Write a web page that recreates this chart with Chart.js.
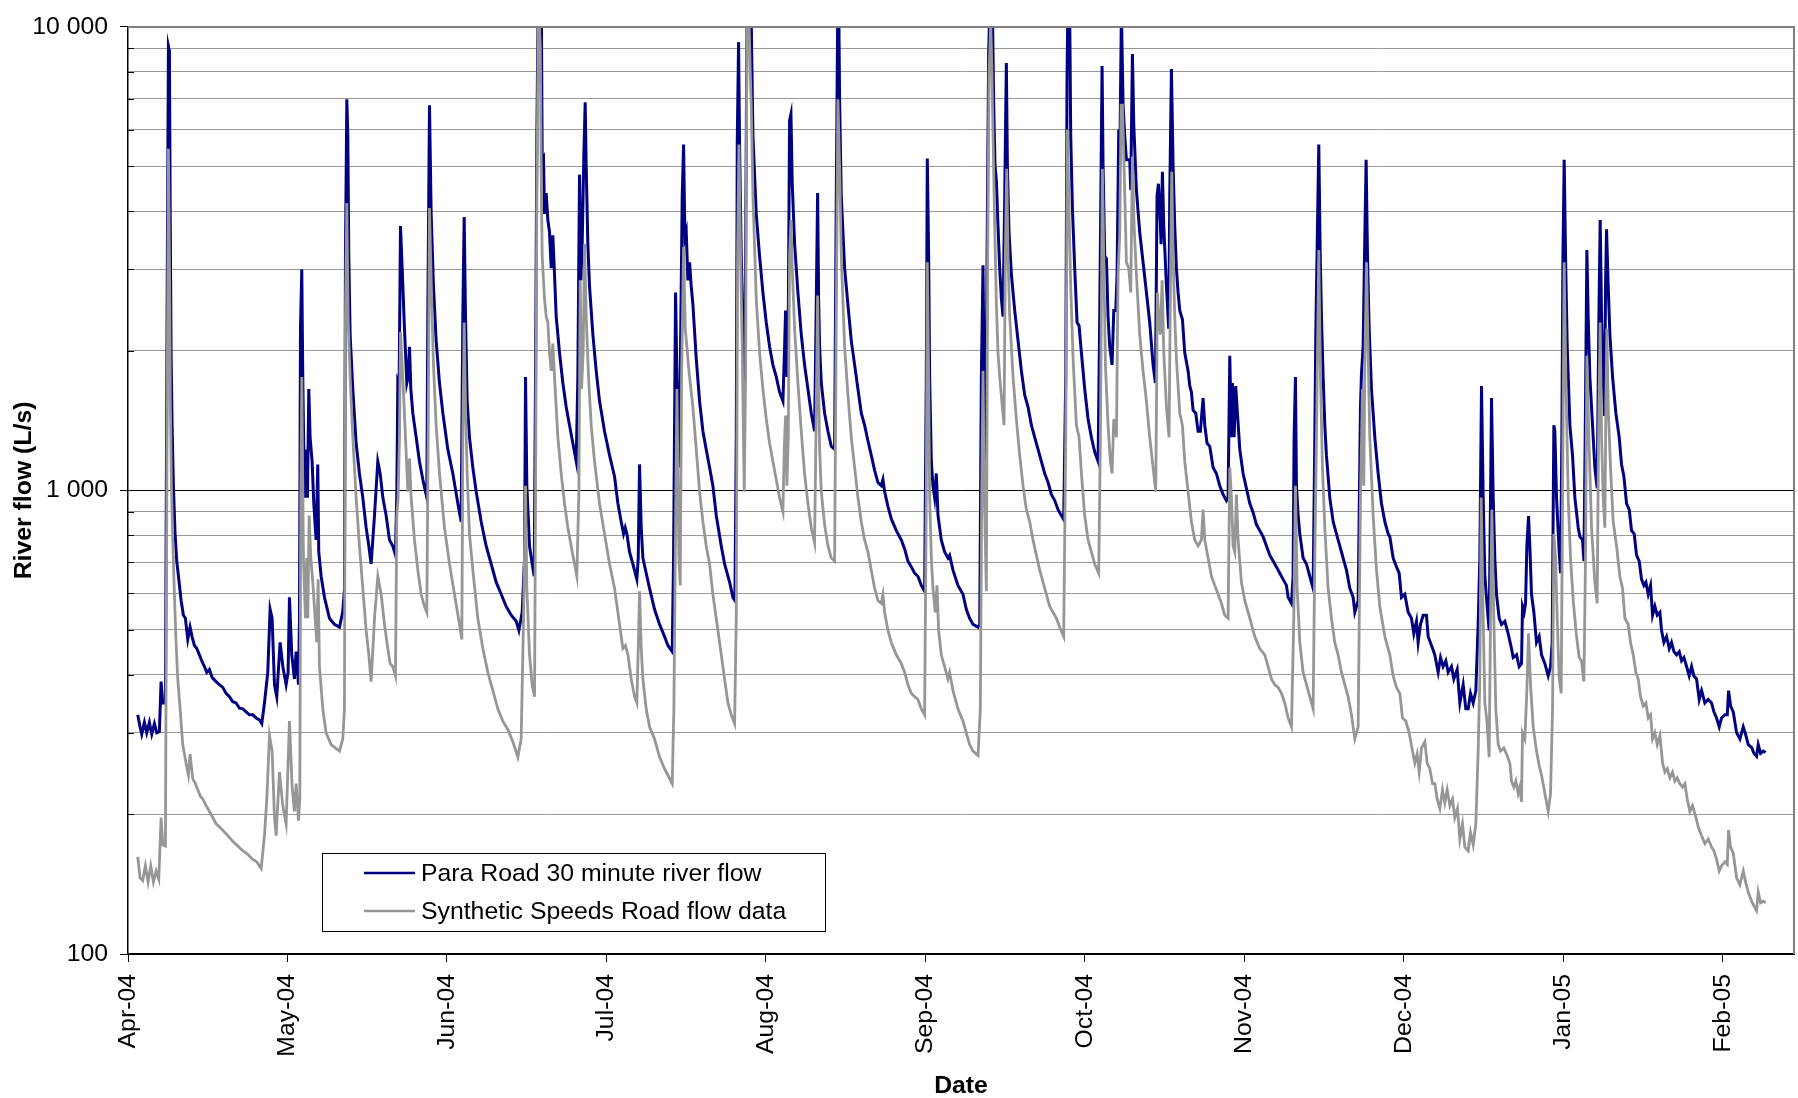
<!DOCTYPE html>
<html>
<head>
<meta charset="utf-8">
<title>River flow</title>
<script src="https://cdn.jsdelivr.net/npm/chart.js@4.4.1/dist/chart.umd.min.js"></script>
<style>
    html, body { margin: 0; padding: 0; background: #ffffff; }
    #wrap { width: 1798px; height: 1098px; }
</style>
</head>
<body>
<div id="wrap"><canvas id="flowChart" width="1798" height="1098"></canvas></div>
<script>
// Month tick labels (ticks are evenly spaced on the original axis)
const monthLabels = ['Apr-04', 'May-04', 'Jun-04', 'Jul-04', 'Aug-04', 'Sep-04',
                     'Oct-04', 'Nov-04', 'Dec-04', 'Jan-05', 'Feb-05'];
const daysPerTick = 30.42;
const lastDay = 317.8;

// Log axis: grid lines and labelled values
const yGridValues = [100, 200, 300, 400, 500, 600, 700, 800, 900,
                     1000, 2000, 3000, 4000, 5000, 6000, 7000, 8000, 9000, 10000];
const yLabelValues = [100, 1000, 10000];
const yLabelTexts = ['100', '1 000', '10 000'];

const seriesNames = ['Para Road 30 minute river flow', 'Synthetic Speeds Road flow data'];

// Para Road flow (days since 1 Apr 2004, L/s)
const paraDays = [
    1.86, 2.30, 2.62, 3.13, 3.57, 4.08, 4.53, 5.04, 5.49, 5.99, 6.31, 6.63, 7.14, 7.45, 7.71, 7.90, 8.05, 8.22,
    8.41, 8.66, 8.98, 9.30, 9.68, 10.13, 10.57, 10.95, 11.40, 11.84, 12.22, 12.67, 13.12, 13.62, 14.13, 14.58,
    15.02, 15.53, 16.04, 16.80, 17.44, 18.08, 18.71, 19.35, 19.98, 20.62, 21.26, 21.89, 22.53, 23.16, 23.80,
    24.44, 25.07, 25.52, 26.03, 26.66, 27.11, 27.49, 27.94, 28.38, 28.76, 29.02, 29.53, 30.16, 30.54, 30.80,
    31.24, 31.75, 32.07, 32.52, 32.71, 32.90, 33.15, 33.34, 33.66, 33.98, 34.23, 34.49, 34.74, 35.12, 35.44,
    35.88, 36.20, 36.39, 36.84, 37.48, 38.43, 39.38, 40.34,
    40.97, 41.29, 41.48, 41.74, 41.93, 42.12, 42.37, 42.88, 43.52, 44.15, 44.79, 45.43, 45.94, 46.38, 47.02,
    47.65, 48.10, 48.61, 49.24, 49.88, 50.51, 51.02, 51.28, 51.47, 51.72, 51.98, 52.30, 52.74, 53.19, 53.44,
    53.70, 53.95, 54.33, 54.97, 55.60, 56.24, 56.75, 57.00, 57.19, 57.51, 57.83, 58.27, 58.78, 59.42, 60.06,
    61.01, 61.96, 62.92, 63.55, 63.87, 64.13, 64.38, 64.70, 65.14, 65.78, 66.42, 67.37, 68.32, 69.28, 70.23,
    71.19, 72.14, 73.10, 74.05, 74.56, 75.19, 75.64, 75.83, 76.08, 76.59, 77.10, 77.48, 77.74, 77.99, 78.30,
    78.85, 79.01, 79.26, 79.45, 79.77, 80.09, 80.41, 80.73, 81.04, 81.36, 81.68, 82.32, 82.95, 83.59, 84.22,
    84.86, 85.50, 85.81, 86.13, 86.39, 86.64, 86.96, 87.21, 87.40, 87.72, 88.04, 88.68, 89.31, 89.95, 90.90,
    91.86, 92.81, 93.45, 94.08, 94.53, 94.85, 95.16, 95.67, 96.31, 97.07, 97.33, 97.58, 97.90, 98.22, 98.85,
    99.49, 100.44, 101.40, 102.35, 102.99, 103.81, 104.07, 104.45, 104.77, 105.09, 105.34, 105.72, 105.98,
    106.23, 106.49, 106.80, 107.12, 107.44, 107.76, 108.40, 109.03, 109.67, 110.30, 110.94, 111.57, 112.21,
    113.17, 113.80, 114.76, 115.39, 115.77, 116.03, 116.22, 116.47, 116.66, 116.98, 117.30, 117.62, 117.81,
    118.06, 118.30, 118.85, 119.21, 119.84, 120.48, 121.11, 121.75, 122.39, 123.02, 123.66, 124.29, 124.93,
    125.18, 125.44, 125.69, 125.95, 126.20, 126.46, 126.71, 127.16, 127.79, 128.43, 129.06, 129.70, 130.34,
    130.97, 131.29, 131.55, 131.74, 131.93, 132.25, 132.88, 133.52, 134.15, 134.79, 135.11, 135.36, 135.50,
    135.62, 135.74, 136.06, 136.70, 137.33, 137.97, 138.61, 139.24, 139.88, 140.51, 141.15, 141.79, 142.42,
    143.06, 143.69, 144.01, 144.33, 144.97, 145.60, 146.56, 147.51, 148.15, 148.78, 149.42, 150.05, 150.69,
    151.33, 151.96, 152.28, 152.47, 152.73, 152.92, 153.24, 153.55, 153.87, 154.19, 154.51, 155.14, 155.78,
    156.41, 156.73, 157.37, 158.32, 159.28, 159.91, 160.55, 161.19, 162.15, 162.47, 162.78, 163.10, 163.29,
    163.61, 163.87, 164.18, 164.50, 164.85, 165.14, 165.39, 165.65, 165.96, 166.28, 166.60, 166.92, 167.24,
    167.55, 167.75, 168.06, 168.51, 169.15, 169.78, 170.42, 171.05, 171.69, 172.33, 172.96, 173.60, 174.23,
    174.87, 175.51, 176.14, 176.78, 177.41, 178.05, 178.49, 178.88, 179.13, 179.32, 179.60, 179.83, 180.15,
    180.59, 181.04, 181.42, 181.87, 182.50, 183.14, 183.77, 184.41, 185.05, 185.36, 185.81, 186.00, 186.32,
    186.64, 186.95, 187.27, 187.72, 188.04, 188.42, 188.67, 188.99, 189.18, 189.50, 189.82, 190.13, 190.45,
    191.09, 191.28, 191.60, 191.85, 192.36, 192.99, 193.63, 194.27, 194.90, 195.54, 195.99, 196.30, 196.56,
    196.81, 197.07, 197.32, 197.58, 198.09, 198.53, 198.72, 199.04, 199.36, 199.67, 199.99, 200.31, 200.63,
    201.14, 201.58, 202.22, 202.54, 202.85, 203.17, 203.68, 204.13, 204.57, 205.08, 205.40, 205.84, 206.35,
    206.99, 207.62, 208.26, 208.90, 209.53, 209.85, 210.17, 210.49, 210.68, 211.00, 211.31, 211.63, 212.08,
    212.71, 213.35, 213.99, 214.62, 215.26, 215.89, 216.53, 217.17, 217.80, 218.44, 219.07, 219.71, 220.35,
    220.98, 221.30, 221.94, 222.25, 222.44, 222.70, 222.89, 223.21, 223.53, 224.16, 224.80, 225.43, 226.07,
    226.39, 226.58, 226.83, 227.15, 227.41, 227.66, 227.98, 228.30, 228.61, 229.25, 229.89, 230.52, 231.16,
    231.79, 232.43, 233.07, 233.70, 234.02, 234.66, 235.10, 235.29, 235.61, 235.87, 236.18, 236.44, 236.76,
    237.20, 237.84, 238.47, 239.11, 239.75, 240.38, 240.70, 241.33, 241.97, 242.48, 242.92, 243.56, 244.20,
    244.83, 245.28, 245.79, 246.10, 246.55, 247.06, 247.69, 248.01, 248.65, 249.28, 249.92, 250.37, 250.87,
    251.38, 251.83, 252.47, 252.91, 253.55, 254.06, 254.69, 255.20, 255.65, 256.09, 256.60, 257.11, 257.55,
    257.87, 258.19, 258.51, 258.83, 259.27, 259.65, 259.91, 260.10, 260.42, 260.73, 261.05, 261.56, 262.01,
    262.64, 263.28, 263.91, 264.23, 264.87, 265.38, 265.82, 266.01, 266.33, 266.59, 266.84, 267.16, 267.41,
    267.73, 268.18, 268.68, 269.19, 269.64, 270.28, 270.91, 271.36, 271.67, 271.99, 272.18, 272.50, 272.95,
    273.26, 273.52, 273.71, 273.96, 274.22, 274.54, 275.05, 275.55, 276.00, 276.64, 276.95, 277.46, 277.72,
    277.97, 278.29, 278.54, 278.86, 279.37, 279.81, 280.26, 280.58, 280.83, 281.09, 281.40, 281.66, 281.85,
    282.04, 282.36, 282.68, 283.19, 283.82, 284.46, 284.90, 285.35, 285.86, 286.37, 286.81, 287.32, 287.76,
    288.27, 288.72, 289.16, 289.55, 289.99, 290.44, 290.82, 291.26, 291.71, 292.22, 292.53, 292.98, 293.49,
    294.00, 294.44, 294.89, 295.40, 295.91, 296.35, 296.80, 297.31, 297.81, 298.26, 298.70, 299.21, 299.72,
    300.17, 300.80, 301.44, 302.08, 302.52, 303.03, 303.54, 303.98, 304.62, 305.07, 305.32, 305.70, 306.21,
    306.85, 307.48, 308.12, 308.63, 309.07, 309.71, 310.15, 310.66, 310.98, 311.43, 311.93, 312.38
];
const paraFlow = [
    328, 309, 298, 316, 300, 316, 298, 314, 300, 302, 387, 348, 348, 2372, 9080, 8870, 4000, 1981,
    1383, 1024, 806, 704, 645, 579, 538, 530, 477, 507, 484, 463, 456, 442, 427, 417,
    405, 411, 395, 387, 381, 376, 365, 359, 350, 348, 339, 338, 333, 328, 328,
    323, 320, 314, 348, 405, 554, 530, 381, 359, 423, 470, 417, 381, 405, 588,
    442, 392, 449, 381, 530, 2234, 2998, 1757, 965, 1226, 965, 1655, 1302, 1155, 937,
    782, 1138, 737, 653, 588, 530, 514, 507,
    548, 612, 3201, 6979, 5830, 3201, 2169, 1655, 1264, 1088, 965, 831, 759, 694, 883,
    1155, 1088, 965, 883, 782, 759, 725, 994, 1731, 1705, 3720, 3015, 2234, 1705, 1757,
    2042, 1655, 1468, 1302, 1155, 1056, 994, 965, 2372, 6776, 3950, 2755, 2104, 1705, 1468,
    1226, 1088, 937, 856, 2372, 3890, 2372, 1559, 1302, 1121, 994, 856, 759, 694, 634,
    597, 562, 538, 522, 499, 546, 715, 1757, 1024, 759, 694, 653, 1757, 5830, 13000,
    11000, 5171, 5230, 3950, 4380, 3832, 3609, 3015, 3550, 2926, 2372, 1981, 1705, 1513, 1383,
    1264, 1155, 1757, 4800, 2839, 3399, 5330, 6880, 5020, 3399, 2755, 2169, 1811, 1559, 1342,
    1190, 1072, 937, 856, 806, 831, 806, 737, 694, 643, 715, 1138, 831, 715, 663,
    615, 554, 514, 484, 463, 449, 715, 2674, 1607, 1121, 1757, 4320, 5575,
    3500, 3609, 2839, 3106, 2755, 2518, 1923, 1559, 1342, 1226, 1121, 1024, 883,
    759, 694, 634, 588, 579, 1302, 5660, 9270, 5575, 3201, 2234, 1705, 3201,
    10000, 14000, 11000, 5830, 3950, 3201, 2674, 2303, 2042, 1866, 1757, 1630, 1559,
    1923, 2444, 1757, 2372, 6280, 6480, 4587, 3399, 2674, 2169, 1866, 1655, 1468,
    1342, 2518, 4380, 2595, 2042, 1705, 1468, 1342, 1245, 1226, 4320, 10000, 13000,
    10000, 6979, 4320, 3015, 2518, 2104, 1866, 1655, 1468, 1383, 1280, 1190, 1105,
    1040, 1024, 1056, 994, 923, 869, 819, 782, 748, 704, 684, 663, 653,
    624, 606, 1757, 5200, 3201, 1757, 1155, 1024, 965, 1088, 883, 782, 737,
    715, 725, 673, 624, 597, 554, 530, 514, 507, 514, 1757, 3060, 1811,
    1155, 3201, 8870, 12000, 12000, 6776, 5020, 4650, 3720, 3015, 2595, 2372, 4320,
    8354, 5020, 3609, 2926, 2444, 2104, 1811, 1607, 1513, 1383, 1302, 1226, 1155,
    1088, 1040, 980, 951, 909, 883, 865, 1757, 7868, 12000, 12000, 5830, 4068,
    3015, 2303, 2268, 1981, 1655, 1426, 1302, 1210, 1155, 2372, 8230, 5020, 3201,
    3160, 2372, 2042, 1866, 2444, 2444, 2926, 6006, 5020, 10800, 6776, 5830, 5171,
    5171, 4450, 8740, 6190, 4450, 3609, 3106, 2674, 2303, 1866, 1705, 4320, 4587,
    4068, 3399, 4870, 3720, 2755, 2234, 4320, 8110, 5020, 3720, 3015, 2674, 2444,
    2338, 1981, 1811, 1680, 1630, 1490, 1468, 1342, 1342, 1583, 1383, 1264, 1245,
    1121, 1088, 1024, 980, 951, 965, 1952, 1302, 1705, 1302, 1680, 1468, 1226,
    1088, 1010, 937, 896, 844, 819, 795, 759, 725, 704, 684, 663, 643,
    624, 588, 571, 653, 1302, 1757, 1024, 883, 806, 715, 694, 653, 615,
    1302, 2169, 3300, 5575, 3300, 2372, 1757, 1383, 1190, 965, 856, 806, 759,
    715, 673, 615, 588, 546, 579, 1513, 1783, 2042, 3201, 5171, 3201, 2234,
    1655, 1302, 1088, 937, 856, 806, 795, 715, 684, 663, 588, 597, 546,
    530, 491, 522, 470, 514, 538, 538, 484, 463, 442, 405, 436, 417,
    429, 405, 417, 392, 411, 348, 381, 338, 338, 365, 348, 370, 514,
    715, 1680, 965, 653, 562, 499, 965, 1583, 965, 715, 597, 530, 514,
    522, 491, 456, 436, 442, 417, 423, 562, 546, 571, 759, 880, 759,
    597, 546, 470, 484, 442, 423, 398, 417, 470, 1383, 1342, 965, 759,
    663, 1302, 3106, 5171, 3201, 2042, 1383, 1190, 965, 831, 795, 782, 704,
    1302, 3300, 2372, 1757, 1383, 1121, 1010, 2372, 3832, 2372, 1757, 1447, 2755,
    3660, 2755, 2169, 1757, 1468, 1302, 1138, 1072, 937, 909, 819, 806, 725,
    704, 643, 624, 634, 597, 624, 538, 562, 538, 546, 499, 470, 484,
    456, 470, 449, 442, 449, 429, 436, 417, 398, 417, 398, 392, 354,
    370, 348, 354, 348, 333, 323, 309, 323, 328, 328, 370, 343, 333,
    300, 291, 309, 296, 283, 279, 271, 267, 283, 271, 274, 272
];

// Synthetic Speeds Road flow (days since 1 Apr 2004, L/s)
const synthDays = [
    1.86, 2.30, 2.81, 3.32, 3.83, 4.34, 4.85, 5.36, 5.87, 6.31, 6.63, 7.14, 7.45, 7.71, 7.90, 8.09, 8.28, 8.54,
    8.85, 9.17, 9.49, 9.94, 10.44, 11.08, 11.52, 11.84, 12.35, 12.86, 13.31, 13.81, 14.26, 14.90, 15.53, 16.17,
    16.80, 17.44, 18.08, 19.03, 19.98, 20.94, 21.89, 22.85, 23.80, 24.57, 25.40, 26.03, 26.48, 26.99, 27.49,
    27.94, 28.26, 28.89, 29.53, 30.16, 30.80, 31.31, 31.75, 32.07, 32.52, 32.77, 32.96, 33.15, 33.47, 33.85,
    34.10, 34.30, 34.55, 34.87, 35.25, 35.70, 36.01, 36.27, 36.52, 37.16, 37.79, 38.75, 40.34,
    40.97, 41.29, 41.48, 41.74, 41.99, 42.37, 42.88, 43.52, 44.15, 44.79, 45.43, 45.94, 46.38, 47.02, 47.65,
    48.29, 48.93, 49.56, 50.01, 50.51, 51.02, 51.28, 51.53, 51.79, 51.98, 52.42, 52.93, 53.38, 53.70, 54.01,
    54.65, 55.29, 55.92, 56.56, 57.00, 57.26, 57.51, 57.83, 58.27, 58.78, 59.42, 60.37, 61.33, 62.28, 63.24,
    63.68, 63.87, 64.13, 64.38, 64.70, 65.14, 65.78, 66.73, 67.69, 68.64, 69.60, 70.55, 71.50, 72.46, 73.41,
    74.37, 75.00, 75.45, 75.83, 76.08, 76.59, 77.10, 77.55, 77.74, 77.99, 78.30, 78.65, 78.85, 79.01, 79.26,
    79.45, 79.77, 80.09, 80.41, 80.73, 81.04, 81.36, 82.00, 82.63, 83.27, 83.91, 84.54, 85.18, 85.62, 86.01,
    86.26, 86.51, 86.83, 87.09, 87.40, 87.85, 88.36, 88.99, 89.95, 90.90, 91.86, 92.81, 93.77, 94.40, 94.91,
    95.36, 95.99, 96.63, 97.07, 97.33, 97.58, 97.90, 98.22, 98.85, 99.49, 100.44, 101.40, 102.35, 102.99,
    103.81, 104.13, 104.45, 104.71, 105.09, 105.34, 105.60, 105.98, 106.30, 106.61, 107.00, 107.25, 107.76,
    108.40, 109.03, 109.67, 110.30, 110.94, 111.57, 112.21, 113.17, 113.80, 114.44, 115.07, 115.71, 116.03,
    116.28, 116.54, 116.85, 117.17, 117.55, 117.81, 118.06, 118.30, 118.70, 118.89, 119.21, 119.84, 120.48,
    121.11, 121.75, 122.39, 123.02, 123.66, 124.29, 124.93, 125.18, 125.44, 125.69, 125.95, 126.20, 126.46,
    126.71, 127.16, 127.79, 128.43, 129.06, 129.70, 130.34, 130.97, 131.29, 131.55, 131.74, 131.93, 132.25,
    132.88, 133.52, 134.15, 134.79, 135.11, 135.42, 135.74, 136.06, 136.70, 137.33, 137.97, 138.61, 139.24,
    139.88, 140.51, 141.15, 141.79, 142.42, 143.06, 143.69, 144.01, 144.33, 144.97, 145.60, 146.56, 147.51,
    148.15, 148.78, 149.42, 150.05, 150.69, 151.33, 151.96, 152.28, 152.47, 152.73, 152.92, 153.24, 153.55,
    154.00, 154.32, 154.63, 155.14, 155.78, 156.41, 156.73, 157.37, 158.32, 159.28, 159.91, 160.55, 161.19,
    162.15, 162.59, 162.85, 163.10, 163.36, 163.74, 163.99, 164.25, 164.57, 164.80, 165.01, 165.33, 165.65,
    165.96, 166.28, 166.79, 167.11, 167.36, 167.62, 167.87, 168.19, 168.83, 169.46, 170.10, 170.73, 171.37,
    172.01, 172.64, 173.28, 173.91, 174.55, 175.19, 175.82, 176.46, 177.10, 177.73, 178.49, 178.88, 179.19,
    179.45, 179.83, 180.28, 180.91, 181.42, 181.87, 182.50, 183.14, 183.77, 184.41, 185.17, 185.49, 185.87,
    186.13, 186.45, 186.95, 187.40, 187.72, 188.04, 188.55, 188.86, 189.18, 189.44, 189.69, 190.01, 190.45,
    190.90, 191.28, 191.60, 191.92, 192.36, 192.99, 193.63, 194.27, 194.90, 195.54, 196.05, 196.37, 196.62,
    196.94, 197.26, 197.58, 198.09, 198.59, 198.85, 199.10, 199.36, 199.67, 199.99, 200.63, 201.14, 201.58,
    202.22, 202.85, 203.49, 204.13, 204.76, 205.08, 205.40, 206.03, 206.67, 207.31, 207.94, 208.58, 209.21,
    209.85, 210.17, 210.49, 210.81, 211.12, 211.44, 211.76, 212.39, 213.03, 213.99, 214.94, 215.89, 216.85,
    217.48, 218.12, 218.76, 219.39, 220.03, 220.66, 221.30, 221.94, 222.38, 222.70, 223.02, 223.53, 224.16,
    225.12, 226.07, 226.39, 226.71, 227.15, 227.47, 227.85, 228.30, 228.93, 229.57, 230.20, 230.84, 231.48,
    232.11, 232.75, 233.39, 234.02, 234.66, 235.10, 235.48, 235.74, 235.93, 236.25, 236.57, 236.88, 237.52,
    238.16, 238.79, 239.75, 240.38, 240.70, 241.33, 241.97, 242.61, 243.11, 243.75, 244.39, 245.02, 245.47,
    245.91, 246.30, 246.74, 247.38, 247.82, 248.33, 248.84, 249.29, 249.73, 250.24, 250.75, 251.19, 251.64,
    252.15, 252.66, 253.10, 253.61, 254.06, 254.56, 255.01, 255.65, 256.09, 256.60, 257.11, 257.55, 257.87,
    258.13, 258.51, 258.83, 259.27, 259.65, 259.91, 260.16, 260.54, 260.92, 261.37, 261.82, 262.45, 262.96,
    263.60, 263.91, 264.36, 264.74, 265.19, 265.50, 265.82, 266.01, 266.46, 266.84, 267.16, 267.54, 268.05,
    268.68, 269.19, 269.64, 270.28, 270.91, 271.36, 271.74, 271.99, 272.31, 272.63, 273.01, 273.39, 273.65,
    273.96, 274.28, 274.73, 275.17, 275.68, 276.32, 276.83, 277.27, 277.72, 278.03, 278.29, 278.67, 279.18,
    279.81, 280.26, 280.51, 280.83, 281.09, 281.40, 281.72, 281.91, 282.10, 282.36, 282.80, 283.31, 283.95,
    284.58, 285.09, 285.54, 286.17, 286.62, 287.13, 287.64, 288.08, 288.53, 289.04, 289.55, 289.99, 290.44,
    290.82, 291.26, 291.71, 292.22, 292.73, 293.17, 293.62, 294.13, 294.63, 295.08, 295.52, 296.03, 296.54,
    296.99, 297.43, 297.94, 298.45, 299.09, 299.53, 300.17, 300.80, 301.44, 302.08, 302.52, 303.03, 303.54,
    303.98, 304.62, 305.07, 305.32, 305.70, 306.21, 306.85, 307.48, 308.12, 308.63, 309.07, 309.71, 310.15,
    310.66, 310.98, 311.43, 311.93, 312.38
];
const synthFlow = [
    162, 146, 144, 155, 143, 155, 143, 151, 145, 197, 172, 171, 1302, 5460, 3201, 1513, 1024, 782,
    597, 470, 392, 338, 283, 258, 243, 270, 239, 233, 226, 219, 216, 209, 203, 197,
    191, 188, 185, 180, 175, 171, 167, 164, 160, 158, 153, 180, 216, 296, 274,
    197, 180, 247, 209, 191, 318, 229, 203, 233, 194, 216, 965, 1757, 715, 530,
    715, 530, 883, 715, 634, 530, 470, 643, 417, 338, 300, 283, 274,
    291, 338, 2372, 4170, 2372, 1757, 1302, 965, 759, 615, 499, 442, 387, 530, 653,
    597, 514, 456, 423, 417, 398, 883, 965, 1302, 2200, 1757, 1302, 994, 1172, 965,
    782, 673, 597, 562, 546, 1302, 4068, 2839, 1866, 1383, 1088, 831, 694, 597, 514,
    477, 1302, 2303, 1513, 1088, 806, 673, 530, 456, 405, 370, 338, 318, 305, 287,
    266, 291, 530, 1024, 615, 442, 381, 359, 965, 4320, 11500, 9000, 4500, 3201, 2839,
    2595, 2372, 2303, 1981, 1811, 2075, 1757, 1302, 1088, 937, 831, 759, 694, 653, 994,
    2839, 1655, 1981, 3399, 2372, 1757, 1383, 1155, 937, 806, 694, 615, 514, 456, 463,
    442, 392, 359, 348, 456, 606, 456, 392, 338, 309, 291, 266, 251, 243,
    233, 338, 831, 1655, 715, 624, 1757, 3350, 2234, 2042, 1811, 1705, 1513,
    1226, 994, 856, 759, 694, 597, 530, 442, 392, 348, 328, 314, 530,
    3201, 5575, 3201, 2042, 994, 1757, 10000, 12500, 8000, 6776, 4320, 2595, 1981,
    1655, 1426, 1264, 1155, 1056, 965, 900, 1226, 1450, 1024, 1302, 3201, 3832,
    3015, 2234, 1705, 1342, 1088, 937, 831, 771, 1490, 2634, 1757, 1226, 994,
    844, 759, 715, 704, 2372, 6979, 5020, 3201, 2042, 1607, 1302, 1121, 965,
    856, 782, 737, 673, 615, 579, 571, 597, 546, 499, 470, 442, 423,
    405, 381, 365, 359, 354, 338, 328, 965, 3106, 1757, 965, 715, 615,
    546, 624, 499, 442, 417, 392, 405, 370, 338, 318, 300, 283, 274,
    268, 338, 965, 1811, 965, 606, 3201, 7868, 10200, 8000, 5830, 3720, 2518,
    1981, 1757, 1513, 1383, 3201, 4940, 3201, 2372, 1757, 1426, 1190, 1024, 909,
    856, 782, 725, 673, 634, 597, 562, 546, 530, 507, 484, 1302, 6006,
    4320, 2755, 1923, 1383, 1302, 1088, 883, 782, 737, 694, 663, 1302, 4940,
    3201, 1866, 1383, 1155, 1088, 1426, 1302, 2926, 3550, 6776, 6776, 5020, 3106,
    3015, 2674, 5250, 3720, 2926, 2169, 1811, 1559, 1302, 1121, 994, 2674, 2372,
    2169, 2839, 1981, 1513, 1302, 2755, 4870, 3201, 2372, 1923, 1468, 1383, 1155,
    994, 856, 782, 759, 782, 909, 782, 715, 653, 624, 597, 571, 538,
    530, 1121, 965, 759, 737, 980, 782, 634, 579, 530, 484, 456, 442,
    417, 392, 381, 376, 365, 348, 323, 309, 530, 1024, 615, 470, 405,
    370, 338, 715, 1302, 3300, 1757, 1121, 831, 615, 530, 470, 442, 405,
    381, 359, 328, 291, 309, 965, 1655, 1024, 1866, 3106, 1981, 1302, 883,
    673, 562, 484, 456, 442, 398, 376, 365, 323, 318, 300, 274, 258,
    270, 247, 278, 287, 258, 251, 233, 233, 216, 206, 226, 212, 226,
    209, 216, 197, 206, 177, 191, 170, 167, 183, 172, 191, 274, 392,
    965, 530, 348, 314, 266, 530, 909, 530, 338, 283, 274, 278, 270,
    258, 236, 229, 236, 222, 229, 213, 300, 291, 370, 492, 381, 309,
    274, 255, 243, 222, 203, 222, 338, 806, 715, 530, 392, 365, 965,
    3106, 1757, 965, 715, 579, 484, 436, 429, 387, 715, 1952, 1302, 831,
    634, 571, 1302, 2303, 1302, 965, 831, 1513, 2234, 1513, 1121, 856, 759,
    653, 615, 530, 514, 470, 442, 405, 392, 359, 343, 348, 323, 328,
    291, 300, 283, 296, 258, 247, 251, 240, 247, 236, 240, 233, 229,
    233, 216, 203, 209, 197, 188, 180, 173, 177, 170, 167, 160, 151,
    155, 158, 156, 185, 170, 165, 146, 141, 151, 142, 136, 130, 127,
    124, 136, 129, 130, 129
];

const BLUE = '#000080';
const GREY = '#969696';
const FONT = "'Liberation Sans', Arial, Helvetica, sans-serif";
const FONT_SIZE = 24.8;

// Plot frame (top/right) and short minor ticks inside the y axis
const plotFramePlugin = {
    id: 'plotFrame',
    afterDraw(chart) {
        const { ctx, chartArea, scales } = chart;
        ctx.save();
        ctx.strokeStyle = '#808080';
        ctx.lineWidth = 2;
        ctx.beginPath();
        ctx.moveTo(chartArea.left, chartArea.top);
        ctx.lineTo(chartArea.right, chartArea.top);
        ctx.lineTo(chartArea.right, chartArea.bottom);
        ctx.stroke();

        ctx.strokeStyle = '#000000';
        ctx.lineWidth = 1;
        yGridValues.forEach(v => {
            if (yLabelValues.includes(v)) return;
            const y = Math.round(scales.y.getPixelForValue(v)) + 0.5;
            ctx.beginPath();
            ctx.moveTo(chartArea.left, y);
            ctx.lineTo(chartArea.left + 6, y);
            ctx.stroke();
        });
        ctx.restore();
    }
};

// Boxed legend inside the plot, lower left
const boxLegendPlugin = {
    id: 'boxLegend',
    afterDraw(chart) {
        const { ctx, chartArea } = chart;
        const left = chartArea.left + 194;
        const top = chartArea.bottom - 101;
        const width = 503;
        const height = 78;
        ctx.save();
        ctx.fillStyle = '#ffffff';
        ctx.fillRect(left, top, width, height);
        ctx.strokeStyle = '#000000';
        ctx.lineWidth = 1;
        ctx.strokeRect(left + 0.5, top + 0.5, width, height);

        ctx.font = FONT_SIZE + 'px ' + FONT;
        ctx.textBaseline = 'middle';
        ctx.textAlign = 'left';
        chart.data.datasets.forEach((ds, i) => {
            const y = top + 20 + i * 38;
            ctx.strokeStyle = ds.borderColor;
            ctx.lineWidth = 2.5;
            ctx.beginPath();
            ctx.moveTo(left + 42, y);
            ctx.lineTo(left + 93, y);
            ctx.stroke();
            ctx.fillStyle = '#000000';
            ctx.fillText(ds.label, left + 99, y + 1);
        });
        ctx.restore();
    }
};

class FlowChartSystem {
    constructor() {
        this.chart = null;
    }

    // Pair the day and flow arrays into points
    toPoints(days, flows) {
        return days.map((d, i) => ({ x: d, y: flows[i] }));
    }

    init() {
        const ctx = document.getElementById('flowChart');
        Chart.defaults.font.family = FONT;
        Chart.defaults.color = '#000000';

        this.chart = new Chart(ctx, {
            type: 'line',
            data: {
                datasets: [
                    {
                        label: seriesNames[0],
                        data: this.toPoints(paraDays, paraFlow),
                        borderColor: BLUE,
                        borderWidth: 3,
                        pointRadius: 0,
                        tension: 0,
                        clip: 0,
                        order: 1
                    },
                    {
                        label: seriesNames[1],
                        data: this.toPoints(synthDays, synthFlow),
                        borderColor: GREY,
                        borderWidth: 2.8,
                        pointRadius: 0,
                        tension: 0,
                        clip: 0,
                        order: 0
                    }
                ]
            },
            options: {
                responsive: false,
                animation: false,
                devicePixelRatio: 1,
                events: [],
                layout: { padding: { top: 22, right: 4, left: 0, bottom: 0 } },
                plugins: {
                    legend: { display: false },
                    tooltip: { enabled: false }
                },
                scales: {
                    x: {
                        type: 'linear',
                        min: 0,
                        max: lastDay,
                        afterBuildTicks: (scale) => {
                            scale.ticks = monthLabels.map((_, i) => ({ value: i * daysPerTick }));
                        },
                        afterFit: (scale) => { scale.height = 144; },
                        ticks: {
                            autoSkip: false,
                            minRotation: 90,
                            maxRotation: 90,
                            padding: 12,
                            font: { size: FONT_SIZE },
                            callback: (value, index) => monthLabels[index]
                        },
                        grid: {
                            drawOnChartArea: false,
                            drawTicks: true,
                            tickLength: 8,
                            tickColor: '#000000',
                            lineWidth: 1
                        },
                        border: { color: '#000000', width: 2 },
                        title: {
                            display: true,
                            text: 'Date',
                            font: { size: FONT_SIZE, weight: 'bold' },
                            padding: { top: 0, bottom: -3 }
                        }
                    },
                    y: {
                        type: 'logarithmic',
                        min: 100,
                        max: 10000,
                        afterBuildTicks: (scale) => {
                            scale.ticks = yGridValues.map(v => ({ value: v }));
                        },
                        afterFit: (scale) => { scale.width = 128; },
                        ticks: {
                            autoSkip: false,
                            padding: 12,
                            font: { size: FONT_SIZE },
                            callback: (value) => {
                                const i = yLabelValues.indexOf(value);
                                return i >= 0 ? yLabelTexts[i] : '';
                            }
                        },
                        grid: {
                            color: (c) => (c.tick && c.tick.value === 1000 ? '#000000' : '#999999'),
                            lineWidth: 1,
                            drawTicks: true,
                            tickLength: 8,
                            tickColor: (c) => (c.tick && yLabelValues.includes(c.tick.value) ? '#000000' : 'rgba(0,0,0,0)')
                        },
                        border: { color: '#000000', width: 1.5 },
                        title: {
                            display: true,
                            text: 'River flow (L/s)',
                            font: { size: FONT_SIZE, weight: 'bold' },
                            padding: { top: 9, bottom: 0 }
                        }
                    }
                }
            },
            plugins: [plotFramePlugin, boxLegendPlugin]
        });
    }
}

const flowChartSystem = new FlowChartSystem();
flowChartSystem.init();
window.flowChartSystem = flowChartSystem;
</script>
</body>
</html>
